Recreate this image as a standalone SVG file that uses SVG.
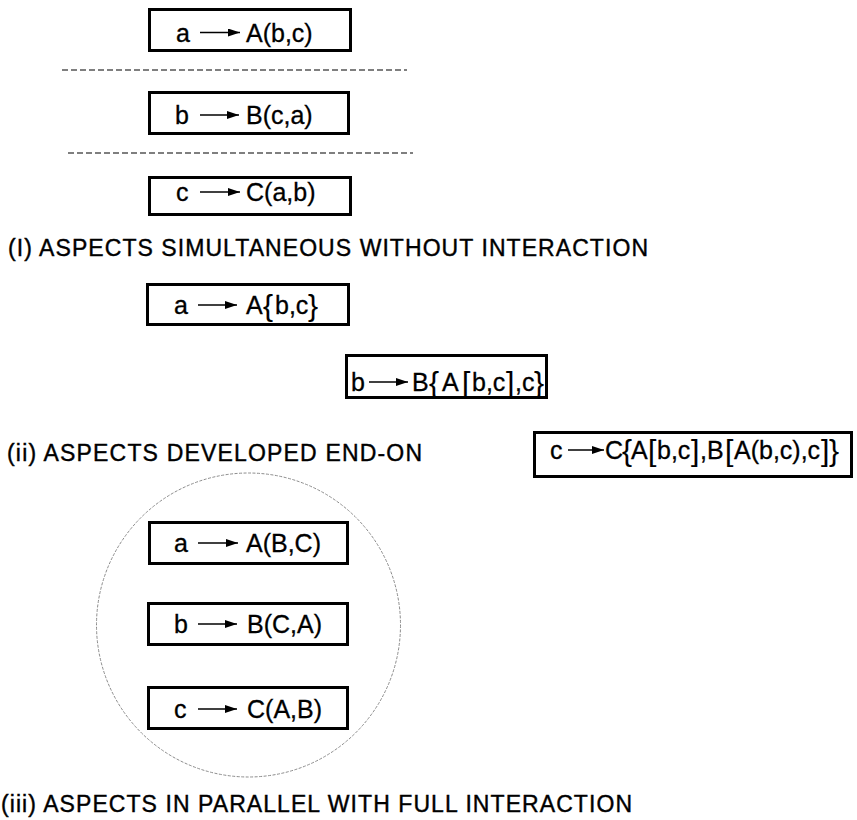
<svg xmlns="http://www.w3.org/2000/svg" width="857" height="820" viewBox="0 0 857 820">
<style>
.box{fill:#fff;stroke:#000;stroke-width:3}
.t{font-family:"Liberation Sans",Arial,sans-serif;font-size:25px;fill:#000;stroke:#000;stroke-width:0.3}
.br{font-family:"Liberation Sans",Arial,sans-serif;font-size:30px;fill:#000;stroke:#000;stroke-width:0.1}
.cap{font-family:"Liberation Sans",Arial,sans-serif;font-size:23px;fill:#000;stroke:#000;stroke-width:0.4}
.arr{stroke:#000;stroke-width:1.7;fill:none;marker-end:url(#ah)}
.sep{stroke:#000;stroke-width:1.2;stroke-dasharray:6 3;fill:none}
</style>
<defs>
<marker id="ah" markerUnits="userSpaceOnUse" markerWidth="12" markerHeight="8" refX="12" refY="4" orient="auto">
<path d="M0,0 L12,4 L0,8 z" fill="#000"/>
</marker>
</defs>
<rect width="857" height="820" fill="#fff"/>

<g id="separators">
<line class="sep" x1="62" y1="70" x2="407" y2="70"/>
<line class="sep" x1="68" y1="153" x2="413" y2="153"/>
</g>

<g id="n1">
<rect class="box" x="149.5" y="9.5" width="201" height="41"/>
<text class="t" x="176" y="41.5">a</text>
<path class="arr" d="M200,32.5 H240"/>
<text class="t" x="246" y="41.5">A(b,c)</text>
</g>
<g id="n2">
<rect class="box" x="149.5" y="92.5" width="199" height="41"/>
<text class="t" x="175" y="124">b</text>
<path class="arr" d="M200,115 H239"/>
<text class="t" x="246" y="124">B(c,a)</text>
</g>
<g id="n3">
<rect class="box" x="149.5" y="177.5" width="201" height="37"/>
<text class="t" x="176" y="201">c</text>
<path class="arr" d="M200,192 H240"/>
<text class="t" x="246" y="201">C(a,b)</text>
</g>
<text class="cap" x="8" y="256" textLength="640" lengthAdjust="spacing">(I) ASPECTS SIMULTANEOUS WITHOUT INTERACTION</text>

<g id="n4">
<rect class="box" x="147.5" y="284.5" width="201" height="40"/>
<text class="t" x="174" y="314">a</text>
<path class="arr" d="M198,305 H237"/>
<text class="t" x="246" y="314">A</text>
<text class="br" x="263" y="316">{</text>
<text class="t" x="275" y="314">b,c</text>
<text class="br" x="308" y="316">}</text>
</g>
<g id="n5">
<rect class="box" x="346.5" y="355.5" width="200" height="42"/>
<text class="t" x="351" y="391">b</text>
<path class="arr" d="M369,382 H408"/>
<text class="t" x="412" y="391">B</text>
<text class="br" x="429" y="393">{</text>
<text class="t" x="442" y="391">A</text>
<text class="br" x="462" y="393">[</text>
<text class="t" x="472" y="391">b,c</text>
<text class="br" x="506" y="393">]</text>
<text class="t" x="515" y="391">,c</text>
<text class="br" x="534" y="393">}</text>
</g>
<text class="cap" x="7" y="461" textLength="415" lengthAdjust="spacing">(ii) ASPECTS DEVELOPED END-ON</text>
<g id="n6">
<rect class="box" x="534.5" y="432.5" width="317" height="44"/>
<text class="t" x="550" y="459">c</text>
<path class="arr" d="M568,450 H604"/>
<text class="t" x="605" y="459">C</text>
<text class="br" x="622" y="461">{</text>
<text class="t" x="631" y="459">A</text>
<text class="br" x="648" y="461">[</text>
<text class="t" x="657" y="459">b,c</text>
<text class="br" x="691" y="461">]</text>
<text class="t" x="700" y="459">,B</text>
<text class="br" x="725" y="461">[</text>
<text class="t" x="734" y="459">A(b,c),c</text>
<text class="br" x="821" y="461">]</text>
<text class="br" x="829" y="461">}</text>
</g>

<g id="circle">
<circle cx="248.5" cy="625" r="152" fill="none" stroke="#8c8c8c" stroke-width="1" stroke-dasharray="3 1.5"/>
</g>
<g id="n7">
<rect class="box" x="149.5" y="522.5" width="198" height="41"/>
<text class="t" x="174" y="552">a</text>
<path class="arr" d="M198,543 H238"/>
<text class="t" x="246" y="552">A(B,C)</text>
</g>
<g id="n8">
<rect class="box" x="148.5" y="603.5" width="199" height="41"/>
<text class="t" x="174" y="633">b</text>
<path class="arr" d="M198,624 H237"/>
<text class="t" x="247" y="633">B(C,A)</text>
</g>
<g id="n9">
<rect class="box" x="148.5" y="687.5" width="199" height="41"/>
<text class="t" x="174" y="718">c</text>
<path class="arr" d="M198,709 H237"/>
<text class="t" x="247" y="718">C(A,B)</text>
</g>
<text class="cap" x="1" y="812" textLength="631" lengthAdjust="spacing">(iii) ASPECTS IN PARALLEL WITH FULL INTERACTION</text>
</svg>
